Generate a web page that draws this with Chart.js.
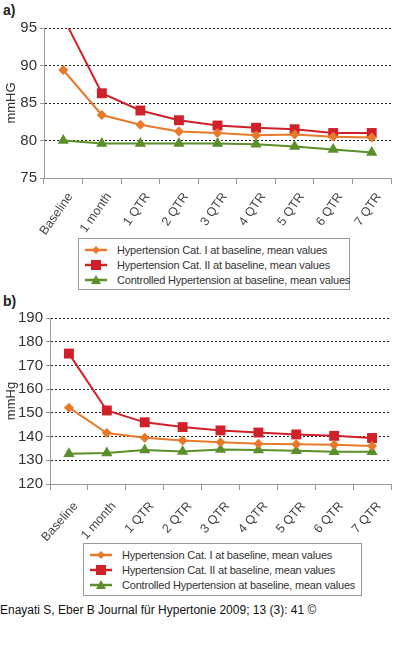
<!DOCTYPE html>
<html>
<head>
<meta charset="utf-8">
<script src="https://cdn.jsdelivr.net/npm/chart.js@4"></script>
<style>
    body { margin: 0; background: #fff; font-family: "Liberation Sans", Arial, sans-serif; }
    #page { position: relative; width: 398px; height: 661px; overflow: hidden; }
    .panel-label { position: absolute; left: 3px; font-weight: bold; font-size: 14px; color: #222; }
    .chart-box { position: absolute; left: 0; width: 398px; }
    .legend { position: absolute; border: 1px solid #999; background: #fff; padding: 3px 6px; font-size: 11px; letter-spacing: -0.2px; color: #333; white-space: nowrap; box-sizing: border-box; }
    .legend-row { display: flex; align-items: center; height: 15px; }
    .legend-row svg { margin-right: 10px; flex-shrink: 0; }
    #source { position: absolute; left: 0; top: 603px; font-size: 12px; color: #111; }
</style>
</head>
<body>
<div id="page">
    <div class="panel-label" style="top:2px;">a)</div>
    <div class="chart-box" style="top:0; height:235px;"><canvas id="chartA"></canvas></div>
    <div class="legend" id="legendA" style="left:78px; top:238px; width:272px; height:52px;"></div>

    <div class="panel-label" style="top:293px;">b)</div>
    <div class="chart-box" style="top:300px; height:241px;"><canvas id="chartB"></canvas></div>
    <div class="legend" id="legendB" style="left:83px; top:543px; width:279px; height:53px;"></div>

    <div id="source">Enayati S, Eber B Journal für Hypertonie 2009; 13 (3): 41 ©</div>
</div>

<script>
// Categories and series
const categories = ['Baseline', '1 month', '1 QTR', '2 QTR', '3 QTR', '4 QTR', '5 QTR', '6 QTR', '7 QTR'];
const seriesNames = [
    'Hypertension Cat. I at baseline, mean values',
    'Hypertension Cat. II at baseline, mean values',
    'Controlled Hypertension at baseline, mean values'
];

// Panel a (diastolic)
const diaCat1 = [89.4, 83.4, 82.1, 81.2, 81.0, 80.7, 80.8, 80.5, 80.4];
const diaCat2 = [96.4, 86.3, 84.0, 82.7, 82.0, 81.7, 81.5, 81.0, 81.0];
const diaControlled = [80.0, 79.6, 79.6, 79.6, 79.6, 79.5, 79.2, 78.8, 78.4];

// Panel b (systolic)
const sysCat1 = [152.2, 141.5, 139.5, 138.3, 137.6, 137.0, 136.8, 136.5, 136.0];
const sysCat2 = [175.0, 151.0, 146.0, 144.0, 142.6, 141.7, 140.9, 140.3, 139.4];
const sysControlled = [132.8, 133.1, 134.3, 133.7, 134.6, 134.3, 134.0, 133.6, 133.6];

const colors = ['#e8782a', '#d0202a', '#5a8f2a'];
const markers = ['rectRot', 'rect', 'triangle'];
const markerSizes = [5, 7, 6.5];

function buildDatasets(values) {
    return values.map((data, i) => ({
        label: seriesNames[i],
        data: data,
        borderColor: colors[i],
        backgroundColor: colors[i],
        borderWidth: 2,
        pointStyle: markers[i],
        pointRadius: markerSizes[i],
        pointHoverRadius: markerSizes[i],
        pointBorderWidth: 0,
        tension: 0
    }));
}

function makeChart(id, values, opts) {
    const ctx = document.getElementById(id).getContext('2d');
    return new Chart(ctx, {
        type: 'line',
        data: {
            labels: categories,
            datasets: buildDatasets(values)
        },
        options: {
            responsive: true,
            maintainAspectRatio: false,
            animation: false,
            layout: { padding: { top: opts.top, right: 5, left: 0, bottom: 0 } },
            plugins: {
                legend: { display: false },
                tooltip: { enabled: false }
            },
            scales: {
                x: {
                    offset: true,
                    grid: {
                        offset: true,
                        drawOnChartArea: false,
                        color: '#999',
                        tickLength: 6
                    },
                    border: { color: '#999', width: 1 },
                    ticks: {
                        minRotation: opts.rotation,
                        maxRotation: opts.rotation,
                        padding: opts.labelPad,
                        labelOffset: 7,
                        color: '#444',
                        font: { family: '"Liberation Sans", Arial, sans-serif', size: 12.5 }
                    },
                    afterFit: scale => { scale.height = opts.xHeight; }
                },
                y: {
                    min: opts.min,
                    max: opts.max,
                    ticks: {
                        stepSize: opts.step,
                        padding: 3,
                        color: '#333',
                        font: { family: '"Liberation Sans", Arial, sans-serif', size: 15 }
                    },
                    grid: {
                        color: '#222',
                        tickColor: '#999',
                        tickLength: 4
                    },
                    border: { color: '#999', width: 1, dash: [2, 2] },
                    title: {
                        display: true,
                        text: opts.unit,
                        color: '#333',
                        padding: { top: 4, bottom: 0 },
                        font: { family: '"Liberation Sans", Arial, sans-serif', size: 13 }
                    },
                    afterFit: scale => { scale.width = opts.yWidth; }
                }
            }
        }
    });
}

function buildLegend(id) {
    const box = document.getElementById(id);
    const icons = [
        '<polygon points="11,1 15,5 11,9 7,5" fill="' + colors[0] + '"/>',
        '<rect x="6" y="0" width="10" height="10" fill="' + colors[1] + '"/>',
        '<polygon points="11,0 16,9 6,9" fill="' + colors[2] + '"/>'
    ];
    box.innerHTML = seriesNames.map((name, i) => `
        <div class="legend-row">
            <svg width="22" height="10"><line x1="0" y1="5" x2="22" y2="5" stroke="${colors[i]}" stroke-width="2.5"/>${icons[i]}</svg>
            <span>${name}</span>
        </div>
    `).join('');
}

makeChart('chartA', [diaCat1, diaCat2, diaControlled], {
    min: 75, max: 95, step: 5, unit: 'mmHG', top: 28, xHeight: 57, yWidth: 44,
    rotation: 55, labelPad: 6
});
makeChart('chartB', [sysCat1, sysCat2, sysControlled], {
    min: 120, max: 190, step: 10, unit: 'mmHg', top: 18, xHeight: 57, yWidth: 50,
    rotation: 48, labelPad: 9
});
buildLegend('legendA');
buildLegend('legendB');
</script>
</body>
</html>
